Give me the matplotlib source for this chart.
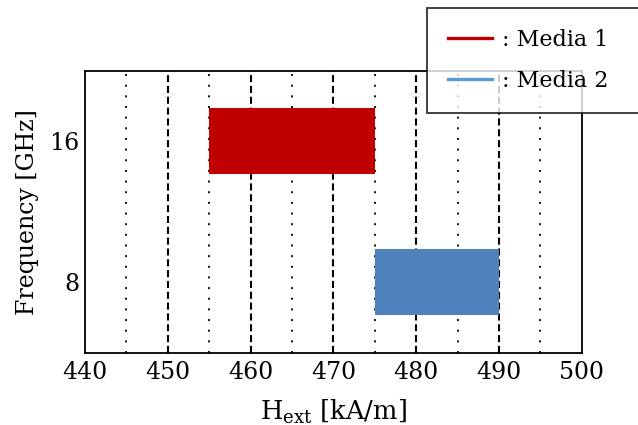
import matplotlib
matplotlib.use("Agg")
import matplotlib.pyplot as plt
from matplotlib.lines import Line2D

plt.rcParams['font.family'] = ['DejaVu Serif']
plt.rcParams['mathtext.fontset'] = 'dejavuserif'

# data
media = [": Media 1", ": Media 2"]
freqs = [16, 8]
h_start = [455, 475]
h_end = [475, 490]
bar_colors = ['#c00000', '#4f81bd']
legend_colors = ['#c00000', '#5b9bd5']
x_ticks = [440, 450, 460, 470, 480, 490, 500]
dashed_x = [450, 460, 470, 480, 490]
dotted_x = [445, 455, 465, 475, 485, 495]

fig = plt.figure(figsize=(6.38, 4.25), dpi=100)
ax = fig.add_axes([0.133, 0.17, 0.779, 0.664])

for x in dashed_x:
    ax.axvline(x, color='black', linestyle=(0, (3.4, 1.8)), linewidth=1.5, zorder=1)
for x in dotted_x:
    ax.axvline(x, color='black', linestyle=(0, (1.1, 4.8)), linewidth=1.3, zorder=1)

for f, s, e, c in zip(freqs, h_start, h_end, bar_colors):
    ax.barh(f, e - s, left=s, height=3.75, color=c, zorder=2)

ax.set_xlim(440, 500)
ax.set_ylim(4, 20)
ax.set_xticks(x_ticks)
ax.set_yticks(freqs)
ax.tick_params(length=0, labelsize=17)
ax.tick_params(axis='y', pad=4)
ax.tick_params(axis='x', pad=6)
for sp in ax.spines.values():
    sp.set_linewidth(1.3)

ax.set_xlabel(r"H$_{\rm ext}$ [kA/m]", fontsize=18.5, labelpad=10)
ax.set_ylabel("Frequency [GHz]", fontsize=17, labelpad=7)

handles = [Line2D([0], [0], color=c, linewidth=2.4) for c in legend_colors]
leg = fig.legend(handles, media, loc='upper left', mode='expand',
                 bbox_to_anchor=(0.669, 0.5, 0.45, 0.482),
                 bbox_transform=fig.transFigure,
                 fontsize=16, frameon=True, fancybox=False, handlelength=2.0,
                 handletextpad=0.45, labelspacing=0.85, borderpad=0.95,
                 borderaxespad=0)
leg.get_frame().set_edgecolor('black')
leg.get_frame().set_linewidth(1.3)

fig.savefig("out.png", dpi=100)
